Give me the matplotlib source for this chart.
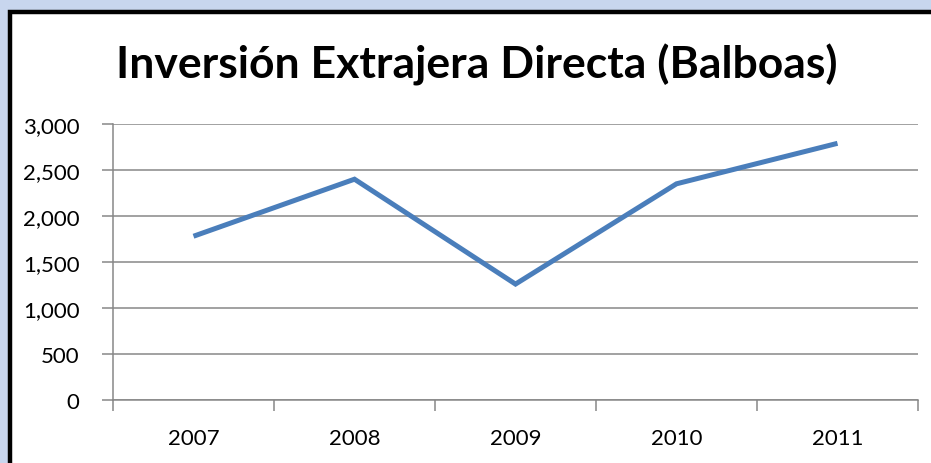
import matplotlib.pyplot as plt
from matplotlib.patches import Rectangle
from matplotlib.lines import Line2D
from matplotlib.ticker import FuncFormatter, FixedLocator

years = ["2007", "2008", "2009", "2010", "2011"]
inversion = [1780, 2400, 1260, 2350, 2790]
title = "Inversión Extrajera Directa (Balboas)"

plt.rcParams['font.family'] = ['Lato', 'DejaVu Sans']

fig = plt.figure(figsize=(9.31, 4.64), dpi=100)
fig.patch.set_facecolor("#c8d6ee")

# white chart box with a black frame on the left and top only,
# the box runs off the right and bottom edges of the picture
W, H = 931, 464
x0, y0 = 10 / W, 1 - 12.5 / H
fig.patches.append(Rectangle((x0, -0.1), 1.2, y0 + 0.1, transform=fig.transFigure,
                             facecolor="white", edgecolor="none", zorder=-2,
                             clip_on=False))
fig.lines.append(Line2D([x0, x0, 1.1], [-0.1, y0, y0], transform=fig.transFigure,
                        color="black", linewidth=3.2, solid_joinstyle="miter",
                        solid_capstyle="butt", zorder=-1))

ax = fig.add_axes([113 / W, (H - 401) / H, (918 - 113) / W, (401 - 125) / H])
ax.set_facecolor("none")

x = range(len(years))
ax.plot(x, inversion, color="#4a7ebb", linewidth=3.6, solid_joinstyle="miter",
        solid_capstyle="butt", zorder=3)

ax.set_xlim(-0.5, len(years) - 0.5)
ax.set_ylim(0, 3000)
ax.set_yticks(range(0, 3001, 500))
ax.yaxis.set_major_formatter(FuncFormatter(lambda v, p: f"{int(v):,}"))
ax.grid(axis="y", color="#878787", linewidth=1.1)
ax.set_axisbelow(True)

ax.xaxis.set_major_locator(FixedLocator([i - 0.5 for i in range(len(years) + 1)]))
ax.set_xticklabels([])
ax.xaxis.set_minor_locator(FixedLocator(list(x)))
ax.set_xticklabels(years, minor=True)
ax.tick_params(axis="x", which="minor", length=0, pad=20, labelsize=16)
ax.tick_params(axis="x", which="major", length=8, color="#878787", width=1.1)
ax.tick_params(axis="y", length=8, color="#878787", width=1.1, labelsize=16, pad=16)

for s in ["top", "right"]:
    ax.spines[s].set_visible(False)
for s in ["left", "bottom"]:
    ax.spines[s].set_color("#878787")
    ax.spines[s].set_linewidth(1.1)

fig.text(477 / W, 1 - 65 / H, title, ha="center", va="center",
         fontsize=32, fontweight="bold")

fig.savefig("out.png", dpi=100, facecolor=fig.get_facecolor())
